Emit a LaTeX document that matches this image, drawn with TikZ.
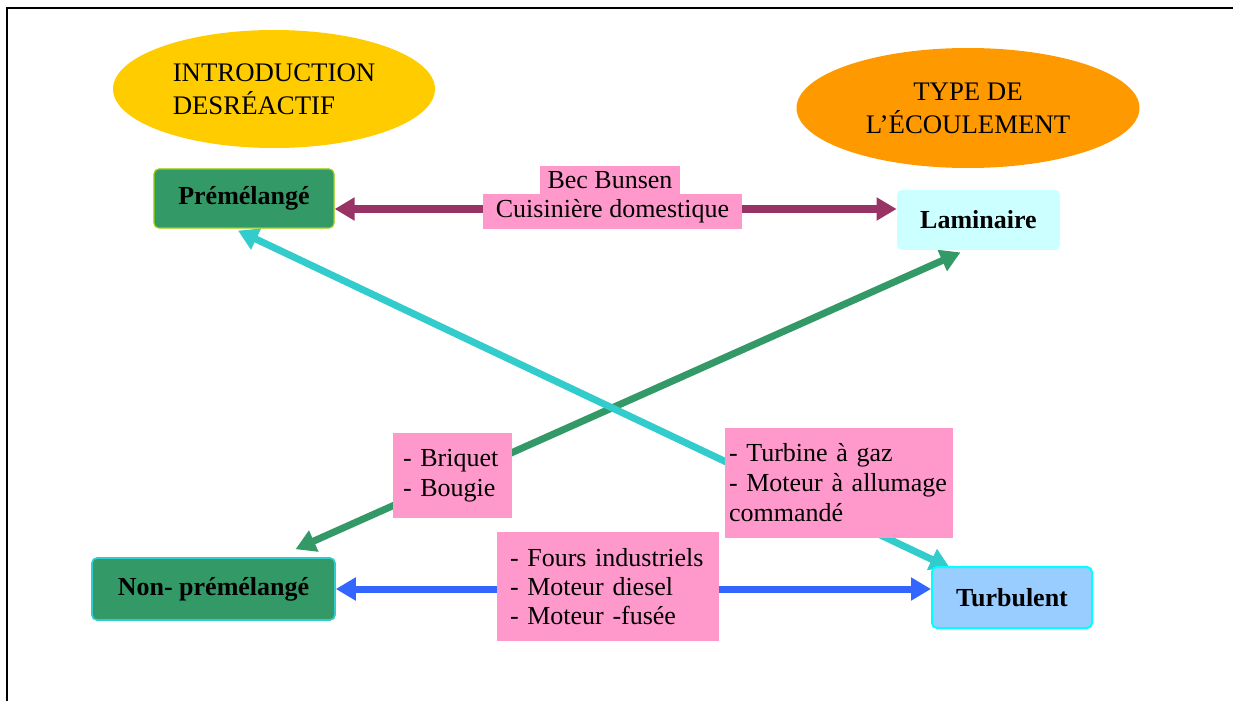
\documentclass[tikz,border=0pt]{standalone}
\usepackage{fontspec}
\setmainfont{Liberation Serif}
\usetikzlibrary{shapes.geometric,arrows.meta,calc}
\pgfdeclarelayer{back}
\pgfdeclarelayer{bg}
\pgfsetlayers{back,bg,main}
\definecolor{cgold}{HTML}{FFCC00}
\definecolor{corange}{HTML}{FF9900}
\definecolor{cgreen}{HTML}{339966}
\definecolor{clime}{HTML}{99CC00}
\definecolor{clam}{HTML}{CCFFFF}
\definecolor{cteal}{HTML}{33CCCC}
\definecolor{ctur}{HTML}{99CCFF}
\definecolor{ccyan}{HTML}{00FFFF}
\definecolor{cpink}{HTML}{FF99CC}
\definecolor{cpurple}{HTML}{993366}
\definecolor{cblue}{HTML}{3366FF}
\tikzset{
  ell/.style={ellipse, inner sep=0pt, font=\fontsize{13.4}{16.5}\selectfont},
  catbox/.style={rectangle, rounded corners=2.5pt, inner sep=0pt, font=\fontsize{13}{15}\selectfont\bfseries},
  lbl/.style={rectangle, fill=cpink, inner sep=0pt, font=\fontsize{13}{15}\selectfont},
  lbllist/.style={lbl, align=left},
  conn/.style={line width=3.5pt},
  tips/.style={{Triangle[width=11pt,length=10pt]}-{Triangle[width=11pt,length=10pt]}}
}
\begin{document}
\begin{tikzpicture}[x=0.5pt,y=-0.5pt]
\useasboundingbox (0,0) rectangle (1233,701);
\begin{pgfonlayer}{back}
\fill[white] (0,0) rectangle (1233,701);
\end{pgfonlayer}
\draw[line width=1pt] (1233,8) -- (7,8) -- (7,701);

% headers
\node[ell, fill=cgold, minimum width=161pt, minimum height=59pt, align=left] (intro) at (274,89) {INTRODUCTION\\DESRÉACTIF};
\node[ell, fill=corange, minimum width=171.5pt, minimum height=60pt, align=center] (type) at (968,108) {TYPE DE\\L’ÉCOULEMENT};

% category boxes
\node[catbox, fill=cgreen, draw=clime, line width=0.6pt, minimum width=90pt, minimum height=29.5pt] (pre) at (244,198.5) {Prémélangé};
\node[catbox, fill=clam, minimum width=81.5pt, minimum height=30pt] (lam) at (978.5,220) {Laminaire};
\node[catbox, fill=cgreen, draw=cteal, line width=0.8pt, minimum width=121.5pt, minimum height=31pt] (non) at (213.5,589) {Non- prémélangé};
\node[catbox, fill=ctur, draw=ccyan, line width=1pt, minimum width=80pt, minimum height=30.5pt] (tur) at (1012,597.5) {Turbulent};

% example labels
\node[lbl, minimum width=70pt, minimum height=14.5pt] (bec) at (610,180.5) {Bec Bunsen};
\node[lbl, minimum width=129.5pt, minimum height=17.5pt] (cui) at (612.5,211.5) {Cuisinière domestique};
\node[lbllist, inner xsep=5pt, text width=49.5pt, minimum height=42.5pt] (bri) at (452.5,475.5) {- Briquet\\- Bougie};
\node[lbllist, inner xsep=2pt, text width=110pt, minimum height=55pt] (tgz) at (839,483) {- Turbine à gaz\\- Moteur à allumage\\commandé};
\node[lbllist, inner xsep=6.5pt, text width=98pt, minimum height=54.5pt, font=\fontsize{13}{14.5}\selectfont] (fours) at (608,586.5) {- Fours industriels\\- Moteur diesel\\- Moteur -fusée};

% connectors
\begin{pgfonlayer}{bg}
\draw[conn, cgreen, tips]
  ([xshift=-9pt,yshift=-1pt]lam.south) -- ([xshift=41pt,yshift=4pt]non.north);
\draw[conn, cteal, tips]
  ([xshift=-3pt,yshift=-1pt]pre.south) -- ([xshift=-31pt,yshift=-1pt]tur.north);
\draw[line width=4pt, cpurple, tips]
  ([yshift=-5.25pt]pre.east) -- ([yshift=5.5pt]lam.west);
\draw[conn, cblue, tips]
  (non.east) -- (tur.west |- non.east);
\end{pgfonlayer}
\end{tikzpicture}
\end{document}
